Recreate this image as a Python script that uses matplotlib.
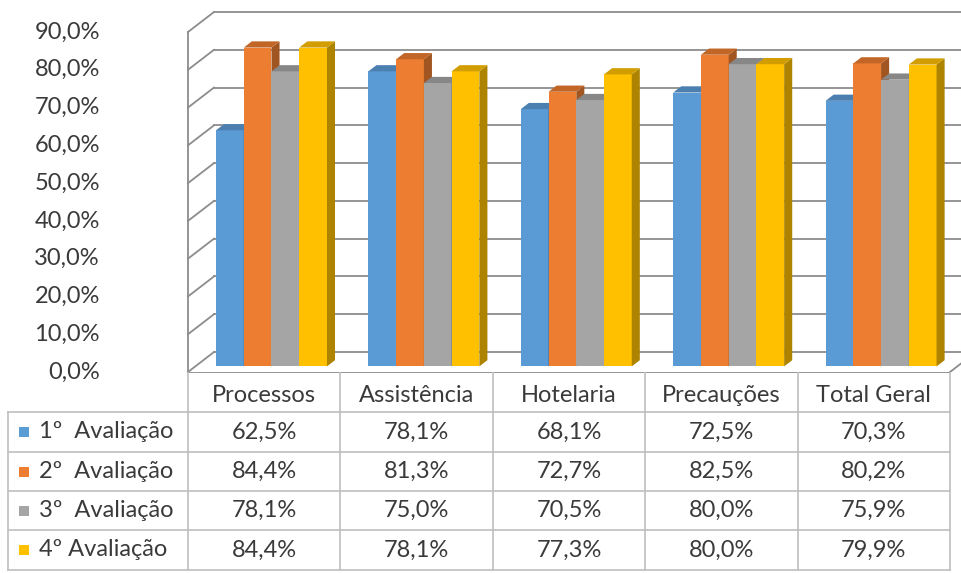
import matplotlib
matplotlib.use("Agg")
import matplotlib.pyplot as plt
from matplotlib.patches import Polygon, Rectangle
from matplotlib.lines import Line2D
import matplotlib.colors as mcolors

categories = ["Processos", "Assistência", "Hotelaria", "Precauções", "Total Geral"]
series_names = ["1º  Avaliação", "2º  Avaliação", "3º  Avaliação", "4º Avaliação"]
aval1 = [62.5, 78.1, 68.1, 72.5, 70.3]
aval2 = [84.4, 81.3, 72.7, 82.5, 80.2]
aval3 = [78.1, 75.0, 70.5, 80.0, 75.9]
aval4 = [84.4, 78.1, 77.3, 80.0, 79.9]
series = [aval1, aval2, aval3, aval4]
colors = ["#5B9BD5", "#ED7D31", "#A5A5A5", "#FFC000"]
yticks = [0, 10, 20, 30, 40, 50, 60, 70, 80, 90]

FONT = "Lato"
FS = 17
TXT = "#3A3A3A"
GRID = "#8C8C8C"
TBL = "#BFBFBF"

W, H = 961, 573
fig = plt.figure(figsize=(W / 100, H / 100), dpi=100)
fig.patch.set_facecolor("white")

def fx(px):
    return px / W

def fy(py):
    return 1 - py / H

# ---- 3D-style chart area (front plane) ----
x_left, x_right, y_bot, y_top = 188, 950, 372, 32
ax = fig.add_axes([fx(x_left), fy(y_bot), fx(x_right) - fx(x_left), fy(y_top) - fy(y_bot)])
ax.set_xlim(0, len(categories))
ax.set_ylim(0, 90)
ax.axis("off")

px_per_cat = (x_right - x_left) / len(categories)
px_per_pct = (y_bot - y_top) / 90.0
DX = 26 / px_per_cat
DY = 20 / px_per_pct

# side wall diagonals + back wall gridlines
for t in yticks:
    ax.add_line(Line2D([0, DX], [t, t + DY], color=GRID, lw=1.3, clip_on=False, zorder=1))
    ax.add_line(Line2D([DX, len(categories) + DX], [t + DY, t + DY], color=GRID, lw=1.3,
                       clip_on=False, zorder=1))
ax.add_line(Line2D([0, 0], [0, 90], color=GRID, lw=1.3, clip_on=False, zorder=1))
ax.add_line(Line2D([len(categories), len(categories) + DX], [0, DY], color=GRID, lw=1.3,
                   clip_on=False, zorder=1))

def shade(c, f):
    r, g, b = mcolors.to_rgb(c)
    return (r * f, g * f, b * f)

bw = 0.182
f_front = 0.28
d_depth = 0.31
for i in range(len(categories)):
    for j, vals in enumerate(series):
        v = vals[i]
        x0 = i + 0.5 - 2 * bw + j * bw + f_front * DX
        y0 = f_front * DY
        ddx, ddy = d_depth * DX, d_depth * DY
        z = 5 + j * 3
        ax.add_patch(Rectangle((x0, y0), bw, v, facecolor=colors[j], edgecolor="none",
                               zorder=z, clip_on=False))
        ax.add_patch(Polygon([(x0 + bw, y0), (x0 + bw + ddx, y0 + ddy),
                              (x0 + bw + ddx, y0 + v + ddy), (x0 + bw, y0 + v)],
                             closed=True, facecolor=shade(colors[j], 0.68), edgecolor="none",
                             zorder=z + 1, clip_on=False))
        ax.add_patch(Polygon([(x0, y0 + v), (x0 + bw, y0 + v),
                              (x0 + bw + ddx, y0 + v + ddy), (x0 + ddx, y0 + v + ddy)],
                             closed=True, facecolor=shade(colors[j], 0.82), edgecolor="none",
                             zorder=z + 2, clip_on=False))

for t in yticks:
    ax.text(-(x_left - 100) / px_per_cat, t, f"{t:.1f}%".replace(".", ","), ha="right",
            va="center", fontsize=FS, family=FONT, color=TXT)

# ---- data table ----
tax = fig.add_axes([0, 0, 1, fy(372)])
tax.set_xlim(0, W)
tax.set_ylim(H, 372)
tax.axis("off")

col_edges = [x_left + k * px_per_cat for k in range(len(categories) + 1)]
row_edges = [372, 412, 452, 491, 530, 570]
hdr_left = 8

tax.add_line(Line2D([x_left, col_edges[-1]], [row_edges[0]] * 2, color=GRID, lw=1.3))
for r in row_edges[1:]:
    tax.add_line(Line2D([hdr_left, col_edges[-1]], [r, r], color=TBL, lw=1.2))
for c in col_edges:
    tax.add_line(Line2D([c, c], [row_edges[0], row_edges[-1]], color=TBL, lw=1.2))
tax.add_line(Line2D([hdr_left, hdr_left], [row_edges[1], row_edges[-1]], color=TBL, lw=1.2))

for k, cat in enumerate(categories):
    tax.text((col_edges[k] + col_edges[k + 1]) / 2, (row_edges[0] + row_edges[1]) / 2 + 4, cat,
             ha="center", va="center", fontsize=FS, family=FONT, color=TXT)

for j, vals in enumerate(series):
    yc = (row_edges[j + 1] + row_edges[j + 2]) / 2
    tax.add_patch(Rectangle((19, yc - 5), 10, 10, facecolor=colors[j], edgecolor="none"))
    tax.text(39, yc, series_names[j], ha="left", va="center", fontsize=FS, family=FONT,
             color=TXT)
    for k, v in enumerate(vals):
        tax.text((col_edges[k] + col_edges[k + 1]) / 2, yc, f"{v:.1f}%".replace(".", ","),
                 ha="center", va="center", fontsize=FS, family=FONT, color=TXT)

fig.savefig("out.png", dpi=100, facecolor="white")
